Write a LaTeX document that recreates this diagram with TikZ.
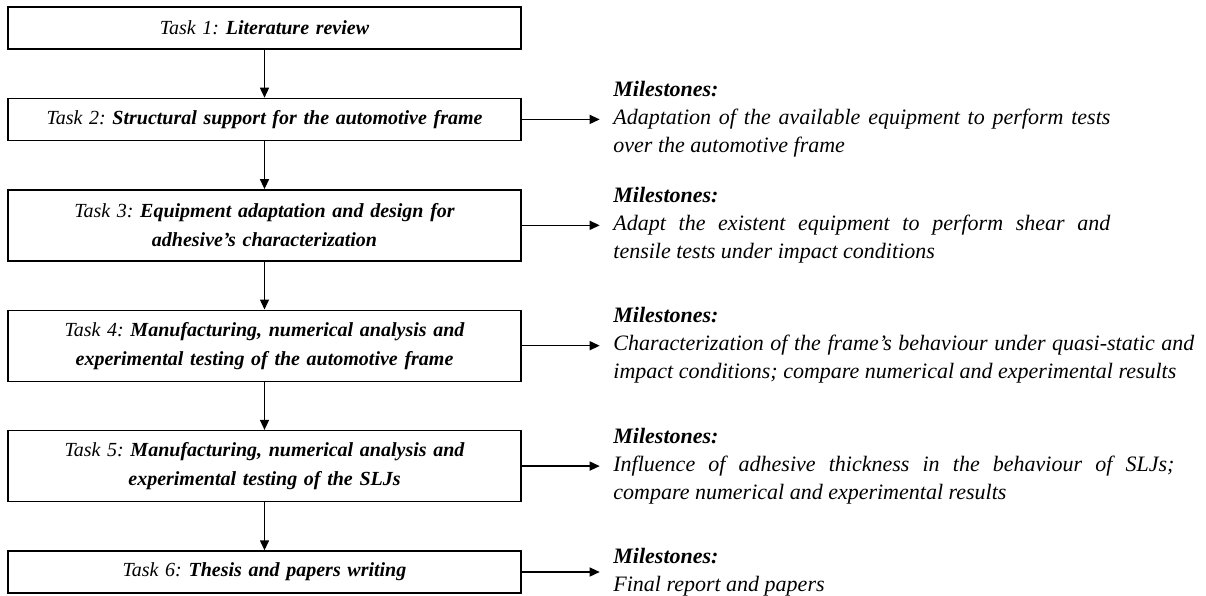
\documentclass[tikz,border=0pt]{standalone}
\usepackage{fontspec}
\setmainfont{Liberation Serif}
\usetikzlibrary{arrows.meta, positioning}
\frenchspacing
\tolerance=10000
\hbadness=10000
\tikzstyle{task}=[rectangle, draw=black, minimum width=513pt, minimum height=42pt, text width=500pt, align=center, inner sep=0pt, font=\fontsize{20}{29}\selectfont\itshape]
\tikzstyle{tasktwo}=[task, minimum height=71pt]
\tikzstyle{milestone}=[text width=560pt, inner xsep=13pt, inner ysep=0pt, align=justify, font=\fontsize{22}{28}\selectfont\itshape]

\begin{document}
\begin{tikzpicture}[x=1pt, y=1pt, node distance=48pt, line width=1.4pt, >={Triangle[length=10pt, width=9pt]}]
          \useasboundingbox (0,0) rectangle (1206,-595);
          \node [task] (t1) at (264.5,-28) {Task 1: \textbf{Literature review}};

          \node [task] (t2) [below=of t1] {Task 2: \textbf{Structural support for the automotive frame}}
                edge [<-] (t1);
          \node [tasktwo] (t3) [below=of t2] {Task 3: \textbf{Equipment adaptation and design for}\\ \textbf{adhesive’s characterization}}
                edge [<-] (t2);
          \node [tasktwo] (t4) [below=of t3] {Task 4: \textbf{Manufacturing, numerical analysis and}\\ \textbf{experimental testing of the automotive frame}}
                edge [<-] (t3);
          \node [tasktwo] (t5) [below=of t4] {Task 5: \textbf{Manufacturing, numerical analysis and}\\ \textbf{experimental testing of the SLJs}}
                edge [<-] (t4);
          \node [task] (t6) [below=of t5] {Task 6: \textbf{Thesis and papers writing}}
                edge [<-] (t5);

          % milestones on the right of each task
          \node [milestone, text width=497pt] (m2) [right=78pt of t2] {\textbf{Milestones:}\\ Adaptation of the available equipment to perform tests\linebreak over the automotive frame}
                edge [<-] (t2);
          \node [milestone, text width=497pt] (m3) [right=78pt of t3] {\textbf{Milestones:}\\ Adapt the existent equipment to perform shear and\linebreak tensile tests under impact conditions}
                edge [<-] (t3);
          \node [milestone, text width=581pt] (m4) [right=78pt of t4] {\textbf{Milestones:}\\ Characterization of the frame’s behaviour under quasi-static and\linebreak impact conditions; compare numerical and experimental results}
                edge [<-] (t4);
          \node [milestone, text width=561pt] (m5) [right=78pt of t5] {\textbf{Milestones:}\\ Influence of adhesive thickness in the behaviour of SLJs;\linebreak compare numerical and experimental results}
                edge [<-] (t5);
          \node [milestone] (m6) [right=78pt of t6] {\textbf{Milestones:}\\ Final report and papers}
                edge [<-] (t6);
        \end{tikzpicture}
\end{document}
